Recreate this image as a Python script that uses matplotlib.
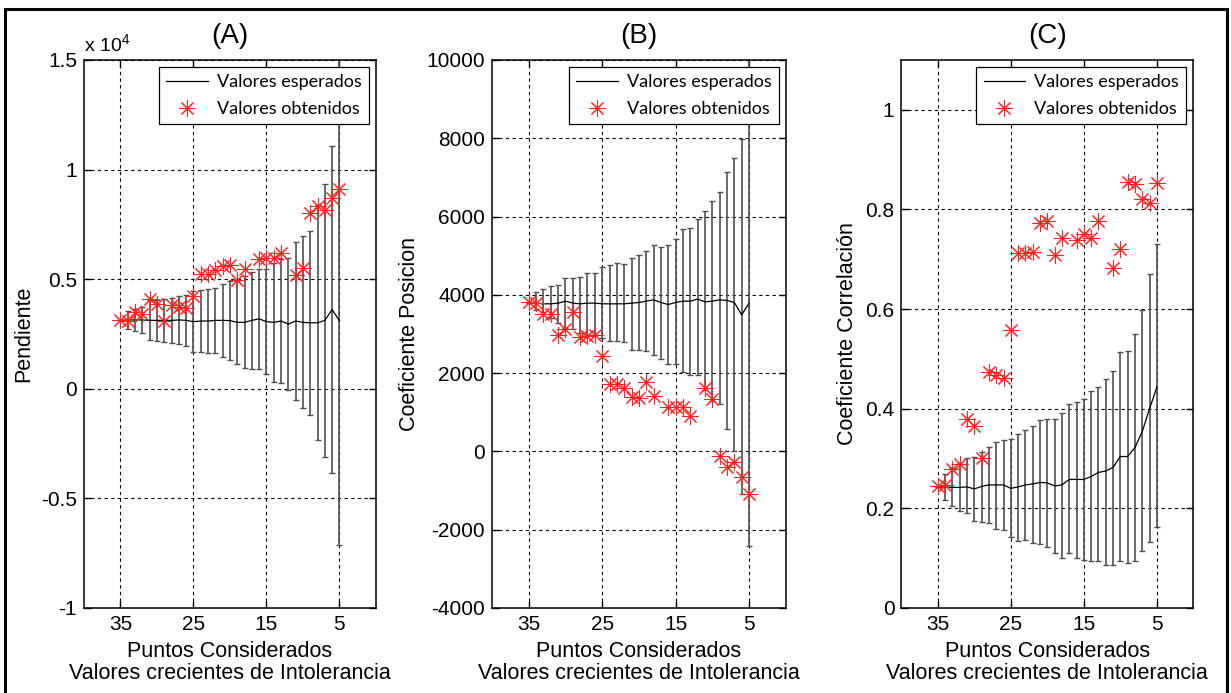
import matplotlib
matplotlib.use('Agg')
import matplotlib.pyplot as plt
import numpy as np
from matplotlib.patches import Rectangle
from matplotlib.ticker import FuncFormatter

plt.rcParams['font.family'] = ['Liberation Sans', 'DejaVu Sans']
plt.rcParams['mathtext.default'] = 'regular'

# puntos considerados (eje x invertido)
x = [35, 34, 33, 32, 31, 30, 29, 28, 27, 26, 25, 24, 23, 22, 21, 20,
     19, 18, 17, 16, 15, 14, 13, 12, 11, 10, 9, 8, 7, 6, 5]

#----------------------- (A) Pendiente -------------------------------
a_mean = [3120, 3140, 3140, 3140, 3120, 3120, 3120, 3120, 3140, 3120, 3060,
          3090, 3090, 3120, 3120, 3110, 3030, 3030, 3120, 3190, 3060, 3030,
          3090, 2950, 3090, 3030, 3010, 3010, 3120, 3610, 3100]
a_lo = [3120, 2730, 2650, 2550, 2210, 2180, 2130, 2090, 2050, 1970, 1660,
        1660, 1620, 1630, 1460, 1310, 1130, 930, 920, 920, 660, 330, 260,
        -50, -530, -900, -1190, -2360, -3120, -3850, -7150]
a_hi = [3120, 3550, 3630, 3730, 4030, 4060, 4110, 4150, 4230, 4270, 4460,
        4520, 4560, 4610, 4780, 4910, 4930, 5130, 5320, 5460, 5460, 5730,
        5920, 5950, 6710, 6960, 7210, 8380, 9360, 11070, 16000]
a_obt = [3120, 3090, 3500, 3400, 4100, 3850, 3100, 3830, 3730, 3680, 4250,
         5250, 5220, 5400, 5600, 5630, 4950, 5480, np.nan, 5940, 5970, 5970,
         6200, np.nan, 5200, 5510, 8000, 8340, 8170, 8690, 9130]

#----------------------- (B) Coeficiente Posicion -------------------------------
b_mean = [3787, 3787, 3770, 3770, 3787, 3838, 3787, 3770, 3787, 3787, 3770,
          3770, 3770, 3770, 3787, 3804, 3838, 3872, 3804, 3753, 3804, 3838,
          3838, 3889, 3821, 3838, 3872, 3855, 3804, 3489, 3787]
b_lo = [3787, 3600, 3560, 3420, 3280, 3150, 3120, 3020, 2980, 2980, 2890,
        2830, 2830, 2790, 2600, 2580, 2560, 2450, 2360, 2220, 2220, 2020,
        1940, 1940, 1560, 1300, 1200, 570, 20, -1080, -2420]
b_hi = [3787, 4068, 4153, 4237, 4254, 4423, 4440, 4457, 4550, 4550, 4719,
        4761, 4803, 4778, 4947, 5015, 5116, 5285, 5226, 5260, 5420, 5690,
        5707, 5927, 6130, 6409, 6620, 7127, 7490, 7989, 10100]
b_obt = [3815, 3789, 3510, 3510, 2970, 3130, 3553, 2920, 2944, 2970, 2431,
         1728, 1728, 1626, 1389, 1372, 1770, 1406, np.nan, 1135, 1135, 1135,
         915, np.nan, 1626, 1338, -110, -390, -263, -644, -1084]

#----------------------- (C) Coeficiente Correlacion -------------------------------
c_mean = [0.242, 0.243, 0.242, 0.242, 0.243, 0.239, 0.244, 0.247, 0.247,
          0.247, 0.240, 0.243, 0.247, 0.249, 0.252, 0.251, 0.245, 0.247,
          0.258, 0.258, 0.258, 0.264, 0.272, 0.275, 0.282, 0.304, 0.304,
          0.322, 0.354, 0.400, 0.443]
c_lo = [0.242, 0.217, 0.204, 0.194, 0.190, 0.174, 0.172, 0.170, 0.159, 0.157,
        0.142, 0.135, 0.137, 0.130, 0.128, 0.122, 0.110, 0.101, 0.110, 0.101,
        0.097, 0.095, 0.095, 0.087, 0.087, 0.095, 0.091, 0.095, 0.115, 0.133,
        0.162]
c_hi = [0.242, 0.268, 0.280, 0.289, 0.302, 0.304, 0.314, 0.324, 0.334, 0.338,
        0.340, 0.350, 0.357, 0.366, 0.377, 0.379, 0.379, 0.392, 0.409, 0.414,
        0.419, 0.436, 0.444, 0.459, 0.476, 0.514, 0.516, 0.549, 0.598, 0.671,
        0.731]
c_obt = [0.244, 0.246, 0.278, 0.289, 0.380, 0.365, 0.302, 0.473, 0.467, 0.462,
         0.557, 0.712, 0.712, 0.715, 0.773, 0.777, 0.708, 0.743, np.nan, 0.738,
         0.750, 0.743, 0.777, np.nan, 0.683, 0.720, 0.855, 0.850, 0.820, 0.813,
         0.853]

xlabel = 'Puntos Considerados\nValores crecientes de Intolerancia'
star = (8, 2, 0)


def panel(ax, mean, lo, hi, obt, title, ylab, ylim, yticks, fmt):
    mean = np.array(mean)
    yerr = [mean - np.array(lo), np.array(hi) - mean]
    ax.errorbar(x, mean, yerr=yerr, fmt='none', ecolor='#505050',
                elinewidth=1.2, capsize=2.5, capthick=1.0, zorder=2)
    ax.plot(x, mean, color='k', lw=0.9, label='Valores esperados', zorder=3)
    ax.plot(x, obt, ls='none', marker=star, ms=12, mec='#ff2020', mew=0.75,
            color='red', label='Valores obtenidos', zorder=4)
    ax.set_xlim(40, 0)
    ax.set_xticks([35, 25, 15, 5])
    ax.set_ylim(*ylim)
    ax.set_yticks(yticks)
    ax.yaxis.set_major_formatter(FuncFormatter(fmt))
    ax.grid(True, color='k', ls=(0, (3, 3)), lw=0.8)
    ax.tick_params(direction='in', top=True, right=True, length=5,
                   labelsize=15, pad=5, width=1.0)
    for s in ax.spines.values():
        s.set_linewidth(1.1)
    ax.set_title(title, fontsize=20, pad=12)
    ax.set_ylabel(ylab, fontsize=15.5, labelpad=5)
    ax.set_xlabel(xlabel, fontsize=15.5, linespacing=1.08, labelpad=5)
    leg = ax.legend(loc='upper right', fancybox=False, framealpha=1,
                    edgecolor='k', borderaxespad=0.4, handlelength=2.3,
                    handletextpad=0.5, labelspacing=0.6,
                    prop={'family': 'Lato', 'size': 13})
    leg.get_frame().set_linewidth(0.9)


fig = plt.figure(figsize=(12.31, 6.93), dpi=100)
axa = fig.add_axes([0.0682, 0.1227, 0.2372, 0.7908])
axb = fig.add_axes([0.3997, 0.1227, 0.2386, 0.7908])
axc = fig.add_axes([0.7322, 0.1227, 0.2372, 0.7908])

panel(axa, a_mean, a_lo, a_hi, a_obt, '(A)', 'Pendiente', (-10000, 15000),
      np.arange(-10000, 15001, 5000), lambda v, p: '%g' % (v / 1e4))
axa.text(0.0, 1.008, r'x 10$^4$', transform=axa.transAxes, fontsize=14,
         ha='left', va='bottom')
panel(axb, b_mean, b_lo, b_hi, b_obt, '(B)', 'Coeficiente Posicion',
      (-4000, 10000), np.arange(-4000, 10001, 2000), lambda v, p: '%g' % v)
panel(axc, c_mean, c_lo, c_hi, c_obt, '(C)', 'Coeficiente Correlación',
      (0, 1.1), [0, 0.2, 0.4, 0.6, 0.8, 1.0], lambda v, p: '%g' % round(v, 1))

fig.patches.append(Rectangle((5 / 1231, -0.05), 1222 / 1231, 1.05 - 9 / 693,
                             transform=fig.transFigure, fill=False,
                             edgecolor='k', lw=2.2))

fig.savefig('out.png', dpi=100)
